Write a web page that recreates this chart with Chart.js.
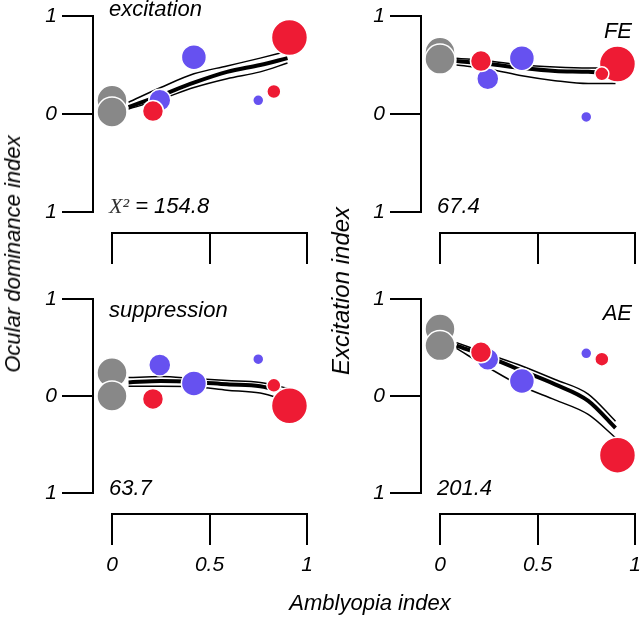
<!DOCTYPE html>
<html>
<head>
<meta charset="utf-8">
<script src="https://cdn.jsdelivr.net/npm/chart.js@4/dist/chart.umd.min.js"></script>
<style>
html,body{margin:0;padding:0;background:#fff;}
#fig{position:relative;width:640px;height:618px;overflow:hidden;font-family:'Liberation Sans',Arial,sans-serif;font-style:italic;color:#000;}
#fig canvas{position:absolute;}
.t{position:absolute;font-size:22px;line-height:22px;white-space:nowrap;}
.serif{font-family:'Liberation Serif','Times New Roman',serif;color:#333;}
</style>
</head>
<body>
<div id="fig">
  <canvas id="c0" width="320" height="280" style="left:0;top:0"></canvas>
  <canvas id="c1" width="320" height="280" style="left:320px;top:0"></canvas>
  <canvas id="c2" width="320" height="338" style="left:0;top:280px"></canvas>
  <canvas id="c3" width="320" height="338" style="left:320px;top:280px"></canvas>
</div>
<script>
// ---------------- DATA ----------------
// groups (draw order): control A, control B, purple large, purple mid, red mid, red large, purple small, red small
const groupX    = [0, 0, 0.42, 0.245, 0.21, 0.91, 0.75, 0.83];   // amblyopia index
const groupSize = [15, 15, 12.5, 11, 10.5, 18, 5.5, 7];          // bubble size

const excitationY  = [0.14, 0.02, 0.58, 0.14, 0.03, 0.78, 0.14, 0.23];
const feY          = [0.63, 0.56, 0.57, 0.36, 0.54, 0.51, -0.03, 0.41];
const suppressionY = [0.24, 0.00, 0.13, 0.32, -0.03, -0.10, 0.38, 0.11];
const aeY          = [0.69, 0.52, 0.155, 0.38, 0.45, -0.61, 0.44, 0.38];

// model fits (mean and band)
const fitX = [0.085, 0.25, 0.42, 0.59, 0.76, 0.90];
const excitationFit   = [0.07, 0.19, 0.32, 0.43, 0.50, 0.57];
const excitationUpper = [0.12, 0.27, 0.41, 0.49, 0.57, 0.64];
const excitationLower = [0.05, 0.15, 0.27, 0.36, 0.43, 0.52];
const feFit   = [0.54, 0.51, 0.47, 0.44, 0.43, 0.41];
const feUpper = [0.57, 0.54, 0.50, 0.48, 0.47, 0.47];
const feLower = [0.50, 0.46, 0.39, 0.34, 0.31, 0.31];
const suppressionFit   = [0.14, 0.155, 0.145, 0.12, 0.10, 0.03];
const suppressionUpper = [0.19, 0.20, 0.18, 0.16, 0.14, 0.08];
const suppressionLower = [0.10, 0.10, 0.095, 0.06, 0.03, -0.05];
const aeFit   = [0.52, 0.40, 0.26, 0.12, -0.05, -0.33];
const aeUpper = [0.55, 0.43, 0.31, 0.17, 0.02, -0.26];
const aeLower = [0.49, 0.29, 0.10, -0.04, -0.19, -0.43];

const panelNames = ['excitation', 'FE', 'suppression', 'AE'];
const chiSquare  = ['154.8', '67.4', '63.7', '201.4'];
const xTickLabels = ['0', '0.5', '1'];
const yTickLabels = ['1', '0', '1'];
const xTitle = 'Amblyopia index';
const yTitleLeft = 'Ocular dominance index';
const yTitleRight = 'Excitation index';

// ---------------- STYLE ----------------
const GRAY = '#888888', RED = '#EE1B34', PURPLE = '#6651F0';
const groupColor = [GRAY, GRAY, PURPLE, PURPLE, RED, RED, PURPLE, RED];
const FONT = "'Liberation Sans', Arial, sans-serif";
Chart.defaults.font.family = FONT;
Chart.defaults.font.size = 21;
Chart.defaults.font.style = 'italic';
Chart.defaults.color = '#000';

const panelCfg = [
  {id:'c0', y:excitationY,  fit:excitationFit,  up:excitationUpper,  lo:excitationLower,  padTop:16, padRight:13, padBottom:68,  yW:112, showX:false},
  {id:'c1', y:feY,          fit:feFit,          up:feUpper,          lo:feLower,          padTop:16, padRight:5,  padBottom:68,  yW:120, showX:false},
  {id:'c2', y:suppressionY, fit:suppressionFit, up:suppressionUpper, lo:suppressionLower, padTop:19, padRight:13, padBottom:125, yW:112, showX:true},
  {id:'c3', y:aeY,          fit:aeFit,          up:aeUpper,          lo:aeLower,          padTop:19, padRight:5,  padBottom:125, yW:120, showX:true}
];

const axisLine = {display:true, color:'#000', width:2};
const axisGrid = {drawOnChartArea:false, drawTicks:true, tickLength:30, color:'#000', lineWidth:2, tickWidth:2};

function lineDs(vals, width) {
  return {
    type:'line', data: fitX.map((x, i) => ({x, y: vals[i]})),
    borderColor:'#000', borderWidth:width, pointRadius:0, fill:false,
    cubicInterpolationMode:'monotone', clip:false, order:1
  };
}

panelCfg.forEach(p => {
  new Chart(document.getElementById(p.id), {
    type:'bubble',
    data:{
      datasets:[
        {type:'bubble', data: groupX.map((x, i) => ({x, y: p.y[i], r: groupSize[i]})),
         backgroundColor: groupColor, borderColor:'#fff', borderWidth:1.5, clip:false, order:0},
        lineDs(p.up, 1.5),
        lineDs(p.lo, 1.5),
        lineDs(p.fit, 4)
      ]
    },
    options:{
      responsive:false, animation:false, devicePixelRatio:1, events:[],
      layout:{autoPadding:false, padding:{top:p.padTop, right:p.padRight, bottom:p.padBottom, left:0}},
      plugins:{legend:{display:false}, tooltip:{enabled:false}, title:{display:false}},
      scales:{
        x:{type:'linear', min:0, max:1, position:{y:-1.215},
           afterFit: s => { s.paddingLeft = 0; s.paddingRight = 0; },
           border:axisLine, grid:axisGrid,
           ticks:{display:p.showX, stepSize:0.5, padding:9, callback:(v, i) => xTickLabels[i]}},
        y:{type:'linear', min:-1, max:1, position:{x:-0.1},
           afterFit: s => { s.width = 0; s.paddingTop = 0; s.paddingBottom = 0; },
           border:axisLine, grid:axisGrid,
           ticks:{display:false, stepSize:1}},
        yl:{type:'linear', axis:'y', min:-1, max:1, position:'left',
           afterFit: s => { s.width = p.yW; s.paddingTop = 0; s.paddingBottom = 0; },
           border:{display:false},
           grid:{display:true, drawOnChartArea:false, drawTicks:true, tickLength:55, color:'rgba(0,0,0,0)'},
           ticks:{stepSize:1, padding:0, callback:(v, i) => yTickLabels[i]}}
      }
    }
  });
});

// ---------------- TEXT ----------------
const fig = document.getElementById('fig');
function addText(html, style) {
  const d = document.createElement('div');
  d.className = 't';
  d.innerHTML = html;
  Object.assign(d.style, style);
  fig.appendChild(d);
  return d;
}
addText(panelNames[0], {left:'109px', top:'-2px'});
addText(panelNames[1], {right:'8px', top:'20px'});
addText(panelNames[2], {left:'109px', top:'299px'});
addText(panelNames[3], {right:'8px', top:'302px'});
addText('<span class="serif">X²</span> = ' + chiSquare[0], {left:'109px', top:'195px'});
addText(chiSquare[1], {left:'437px', top:'195px'});
addText(chiSquare[2], {left:'109px', top:'477px'});
addText(chiSquare[3], {left:'437px', top:'477px'});
addText(xTitle, {left:'370px', top:'592px', transform:'translateX(-50%)'});
addText(yTitleLeft, {left:'13px', top:'254px', transform:'translate(-50%,-50%) rotate(-90deg)'});
addText(yTitleRight, {left:'341px', top:'291px', fontSize:'24px', transform:'translate(-50%,-50%) rotate(-90deg)'});
</script>
</body>
</html>
